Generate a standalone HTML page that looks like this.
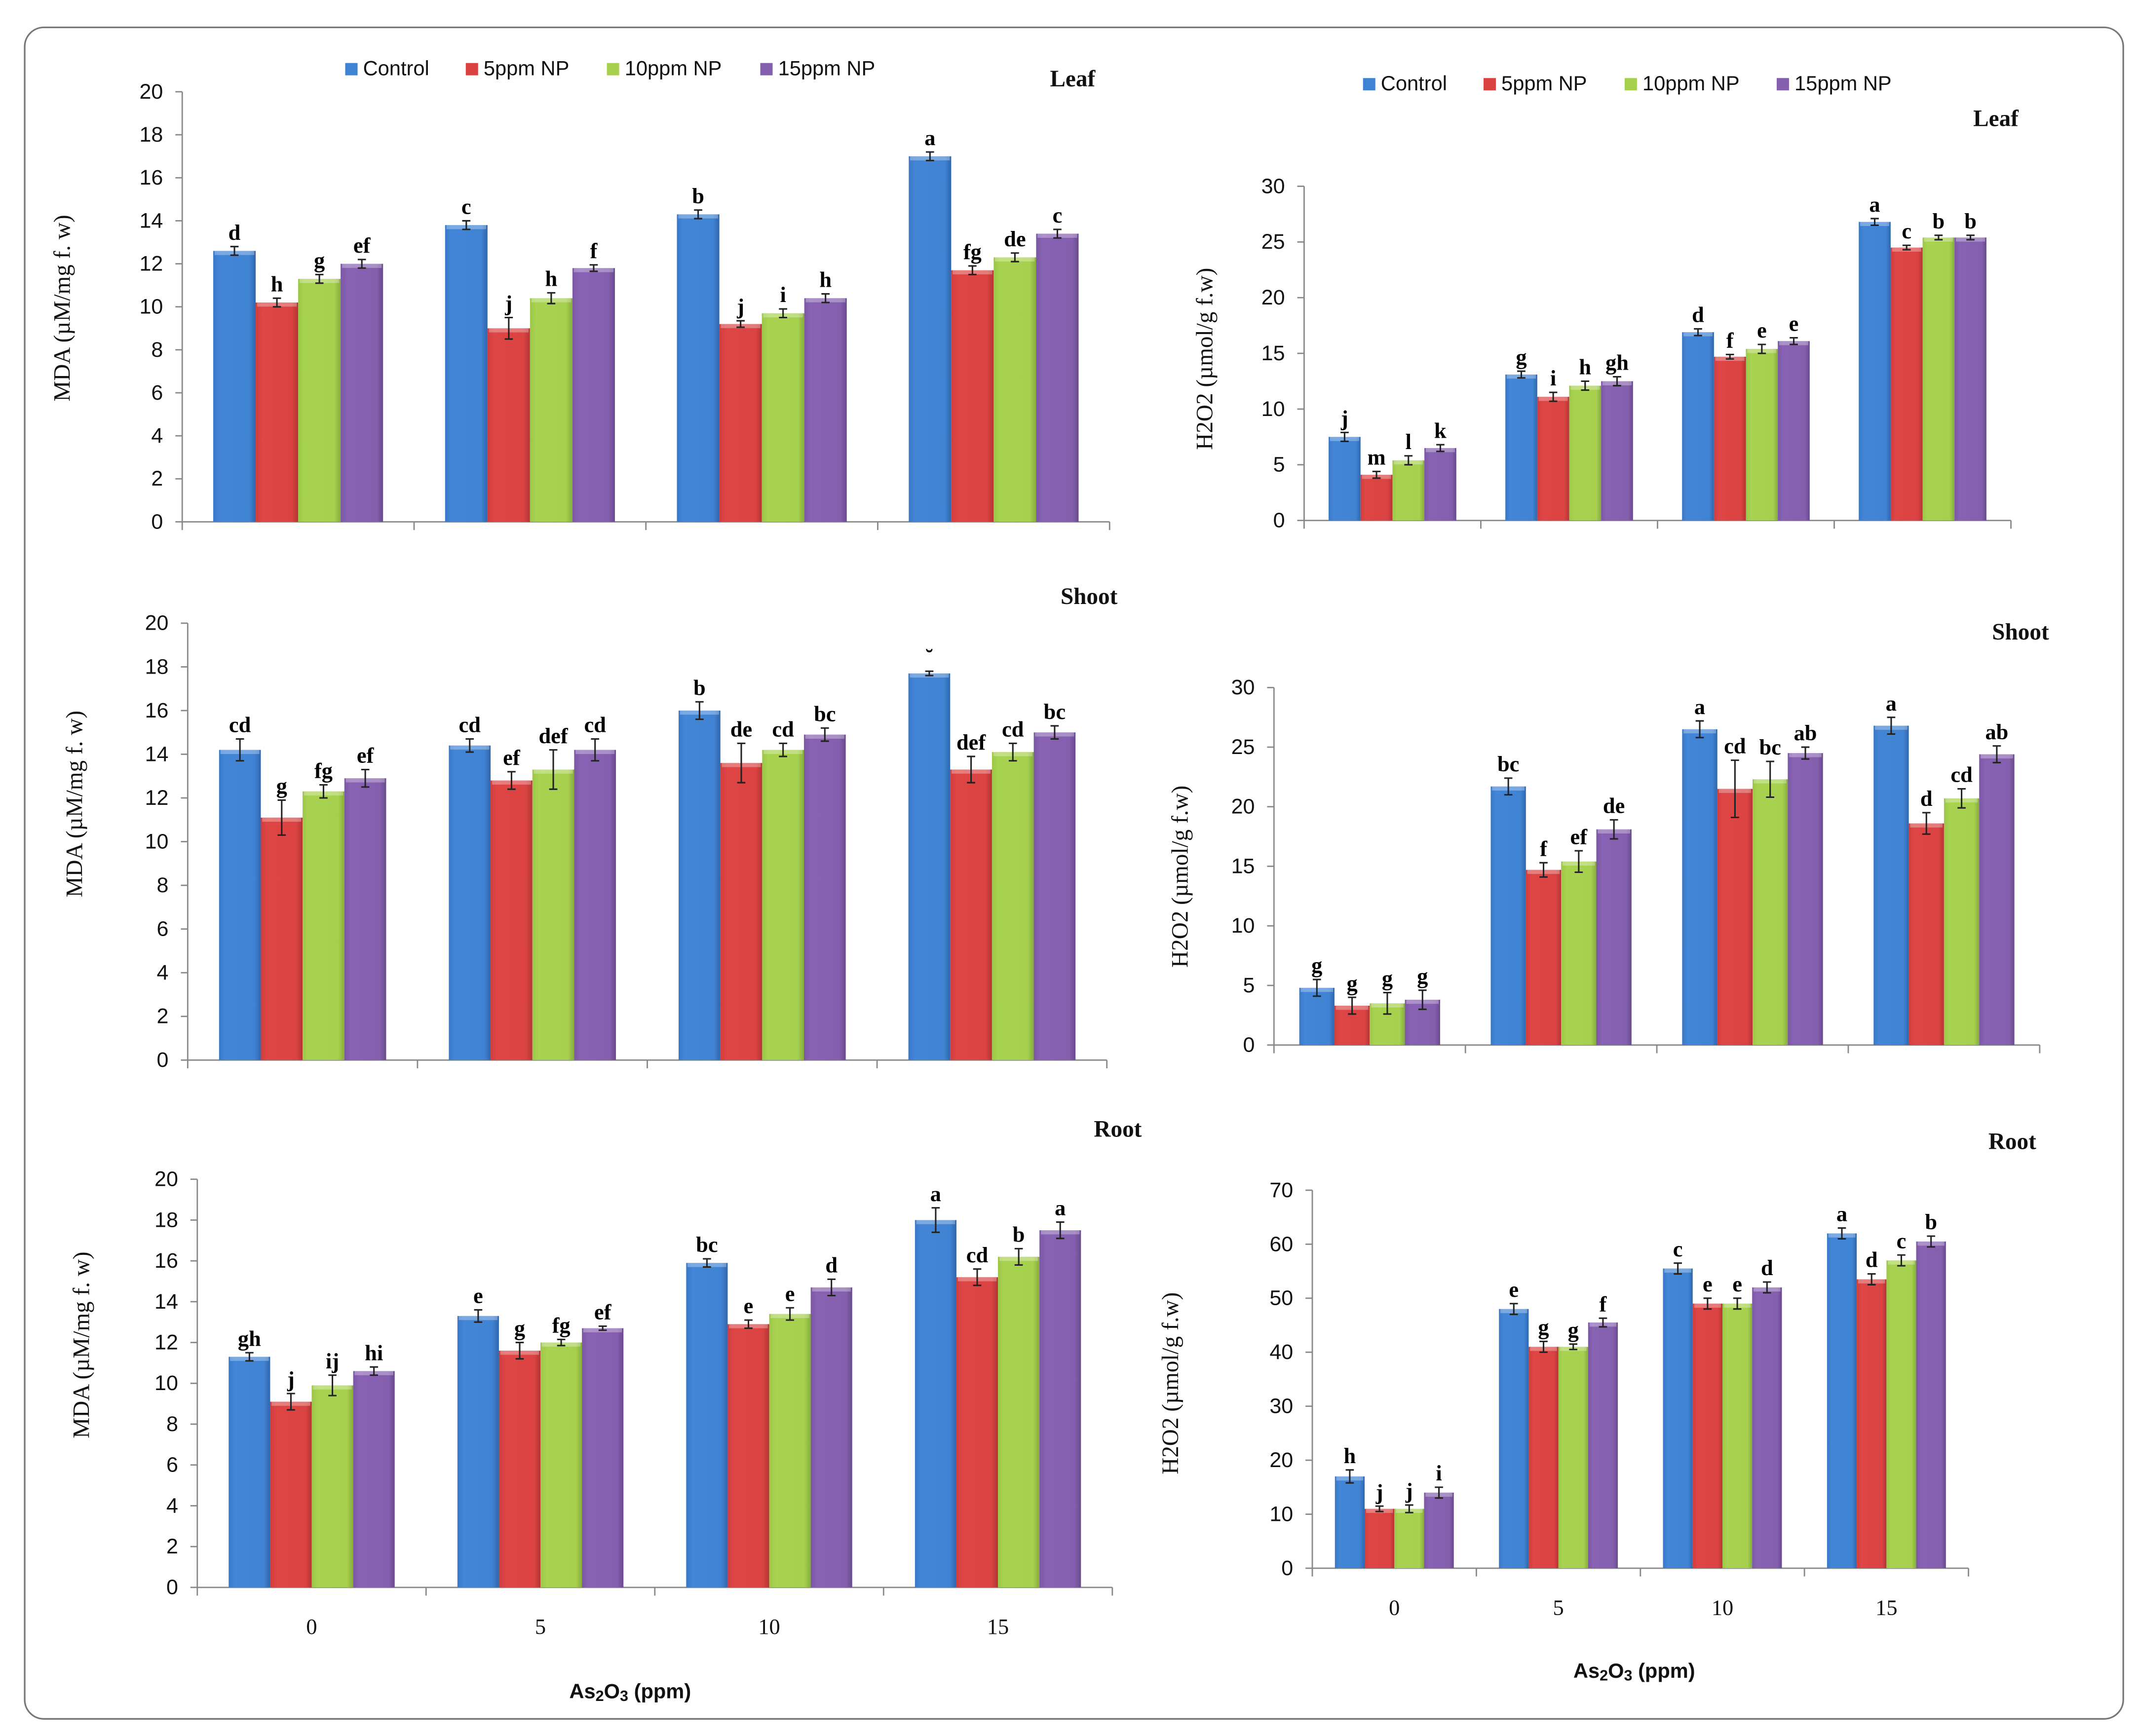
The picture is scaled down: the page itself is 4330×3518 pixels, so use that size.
<!DOCTYPE html>
<html><head><meta charset="utf-8"><style>html,body{margin:0;padding:0;background:#fff}svg{display:block}</style></head>
<body>
<svg id="fig" xmlns="http://www.w3.org/2000/svg" width="4330" height="3518" viewBox="0 0 1560 1267.5">
<defs>
<linearGradient id="g0" x1="0" x2="1"><stop offset="0" stop-color="#3a78c8"/><stop offset="0.15" stop-color="#4385d6"/><stop offset="0.85" stop-color="#4083d3"/><stop offset="1" stop-color="#2f66ad"/></linearGradient>
<linearGradient id="g1" x1="0" x2="1"><stop offset="0" stop-color="#cf3d3d"/><stop offset="0.15" stop-color="#de4545"/><stop offset="0.85" stop-color="#db4343"/><stop offset="1" stop-color="#b33434"/></linearGradient>
<linearGradient id="g2" x1="0" x2="1"><stop offset="0" stop-color="#9cc648"/><stop offset="0.15" stop-color="#a8d351"/><stop offset="0.85" stop-color="#a6d04e"/><stop offset="1" stop-color="#86ad3c"/></linearGradient>
<linearGradient id="g3" x1="0" x2="1"><stop offset="0" stop-color="#7a57a3"/><stop offset="0.15" stop-color="#8862b3"/><stop offset="0.85" stop-color="#845fae"/><stop offset="1" stop-color="#684a8c"/></linearGradient>
</defs>
<rect x="18" y="20" width="1532" height="1235" rx="14" fill="none" stroke="#777" stroke-width="1.2"/>
<g id="root"></g>
</svg>
<script>
const categories = ["0","5","10","15"];
const seriesNames = ["Control","5ppm NP","10ppm NP","15ppm NP"];
const leafMdaValues = [[12.6,10.2,11.3,12.0],[13.8,9.0,10.4,11.8],[14.3,9.2,9.7,10.4],[17.0,11.7,12.3,13.4]];
const leafMdaErrors = [[0.2,0.2,0.2,0.2],[0.2,0.5,0.25,0.15],[0.2,0.15,0.2,0.2],[0.2,0.2,0.2,0.2]];
const leafMdaLetters = [["d","h","g","ef"],["c","j","h","f"],["b","j","i","h"],["a","fg","de","c"]];
const leafMdaTicks = [0,2,4,6,8,10,12,14,16,18,20];
const leafH2o2Values = [[7.5,4.1,5.4,6.5],[13.1,11.1,12.1,12.5],[16.9,14.7,15.4,16.1],[26.8,24.5,25.4,25.4]];
const leafH2o2Errors = [[0.4,0.3,0.4,0.3],[0.3,0.4,0.4,0.4],[0.3,0.2,0.4,0.3],[0.3,0.2,0.2,0.2]];
const leafH2o2Letters = [["j","m","l","k"],["g","i","h","gh"],["d","f","e","e"],["a","c","b","b"]];
const leafH2o2Ticks = [0,5,10,15,20,25,30];
const shootMdaValues = [[14.2,11.1,12.3,12.9],[14.4,12.8,13.3,14.2],[16.0,13.6,14.2,14.9],[17.7,13.3,14.1,15.0]];
const shootMdaErrors = [[0.5,0.8,0.3,0.4],[0.3,0.4,0.9,0.5],[0.4,0.9,0.3,0.3],[0.1,0.6,0.4,0.3]];
const shootMdaLetters = [["cd","g","fg","ef"],["cd","ef","def","cd"],["b","de","cd","bc"],["˘","def","cd","bc"]];
const shootMdaTicks = [0,2,4,6,8,10,12,14,16,18,20];
const shootH2o2Values = [[4.8,3.3,3.5,3.8],[21.7,14.7,15.4,18.1],[26.5,21.5,22.3,24.5],[26.8,18.6,20.7,24.4]];
const shootH2o2Errors = [[0.7,0.7,0.9,0.8],[0.7,0.6,0.9,0.8],[0.7,2.4,1.5,0.5],[0.7,0.9,0.8,0.7]];
const shootH2o2Letters = [["g","g","g","g"],["bc","f","ef","de"],["a","cd","bc","ab"],["a","d","cd","ab"]];
const shootH2o2Ticks = [0,5,10,15,20,25,30];
const rootMdaValues = [[11.3,9.1,9.9,10.6],[13.3,11.6,12.0,12.7],[15.9,12.9,13.4,14.7],[18.0,15.2,16.2,17.5]];
const rootMdaErrors = [[0.2,0.4,0.5,0.2],[0.3,0.4,0.15,0.1],[0.2,0.2,0.3,0.4],[0.6,0.4,0.4,0.4]];
const rootMdaLetters = [["gh","j","ij","hi"],["e","g","fg","ef"],["bc","e","e","d"],["a","cd","b","a"]];
const rootMdaTicks = [0,2,4,6,8,10,12,14,16,18,20];
const rootH2o2Values = [[17,11,11,14],[48,41,41,45.5],[55.5,49,49,52],[62,53.5,57,60.5]];
const rootH2o2Errors = [[1.2,0.5,0.7,1.0],[1.0,1.0,0.5,0.8],[1.0,1.0,1.0,1.0],[1.0,1.0,1.0,1.0]];
const rootH2o2Letters = [["h","j","j","i"],["e","g","g","f"],["c","e","e","d"],["a","d","c","b"]];
const rootH2o2Ticks = [0,10,20,30,40,50,60,70];

const NS="http://www.w3.org/2000/svg";
const root=document.getElementById('root');
function mk(tag,attrs,parent,text){const e=document.createElementNS(NS,tag);for(const k in attrs)e.setAttribute(k,attrs[k]);if(text!==undefined)e.textContent=text;(parent||root).appendChild(e);return e;}

function panel(p){
  const g=mk('g',{});
  
  
  const ymax=p.ticks[p.ticks.length-1];
  const y=v=>p.y0-(v/ymax)*(p.y0-p.y1);
  const gw=(p.x1-p.x0)/categories.length;
  // y axis
  const ya=mk('line',{x1:p.x0,y1:p.y0,x2:p.x0,y2:p.y1,stroke:'#888','stroke-width':1},g);
  
  
  p.ticks.forEach(t=>{
    mk('line',{x1:p.x0-5,x2:p.x0,y1:y(t),y2:y(t),stroke:'#888','stroke-width':1},g);
    const tl=mk('text',{x:p.x0-14,y:y(t)+5,'text-anchor':'end','font-family':'Liberation Sans, sans-serif','font-size':15.5,fill:'#111'},g,String(t));
    
    
  });
  const xa=mk('line',{x1:p.x0,y1:p.y0,x2:p.x1,y2:p.y0,stroke:'#888','stroke-width':1},g);
  
  
  for(let i=0;i<=categories.length;i++){mk('line',{x1:p.x0+i*gw,x2:p.x0+i*gw,y1:p.y0,y2:p.y0+6,stroke:'#888','stroke-width':1},g);}
  p.values.forEach((row,i)=>{
    const cx=p.x0+gw*(i+0.5);
    row.forEach((v,j)=>{
      const bx=cx+(j-2)*p.bw;
      const top=y(v);
      const r=mk('rect',{x:bx,y:top,width:p.bw,height:p.y0-top,fill:'url(#g'+j+')'},g);
      
      
      mk('rect',{x:bx+1,y:top,width:p.bw-2,height:3,fill:'#fff',opacity:0.3},g);
      const e=p.errors[i][j];const ex=bx+p.bw/2;
      const eb=mk('path',{d:`M${ex},${y(v+e)}V${y(v-e)}M${ex-3},${y(v+e)}h6M${ex-3},${y(v-e)}h6`,stroke:'#222','stroke-width':1.1,fill:'none'},g);
      
      
      const lt=mk('text',{x:ex,y:y(v+e)-5,'text-anchor':'middle','font-family':'Liberation Serif, serif','font-weight':'bold','font-size':16,fill:'#000'},g,p.letters[i][j]);
      
      
    });
    if(p.xlabels){
      const xl=mk('text',{x:cx,y:p.y0+34,'text-anchor':'middle','font-family':'Liberation Serif, serif','font-size':16,fill:'#111'},g,categories[i]);
      
      
    }
  });
  const yt=mk('text',{x:0,y:0,transform:`translate(${p.tx},${p.ty}) rotate(-90)`,'text-anchor':'middle','font-family':'Liberation Serif, serif','font-size':17,fill:'#111'},g,p.ytitle);
  
  
  const ti=mk('text',{x:p.titleX,y:p.titleY,'text-anchor':'middle','font-family':'Liberation Serif, serif','font-weight':'bold','font-size':17,fill:'#111'},g,p.title);
  
  
  if(p.legend){
    const cols=['#4083d3','#db4343','#a6d04e','#845fae'];
    p.legend.xs.forEach((lx,j)=>{
      const le=mk('g',{},g);
      
      
      mk('rect',{x:lx,y:p.legend.y-9,width:9,height:9,fill:cols[j]},le);
      mk('text',{x:lx+13,y:p.legend.y,'font-family':'Liberation Sans, sans-serif','font-size':15,fill:'#111'},le,seriesNames[j]);
    });
  }
  if(p.xtitle){
    const xt=mk('text',{x:p.xtitle[0],y:p.xtitle[1],'text-anchor':'middle','font-family':'Liberation Sans, sans-serif','font-weight':'bold','font-size':15,fill:'#111'},g);
    
    
    xt.innerHTML='As<tspan font-size="11" dy="2">2</tspan><tspan dy="-2">O</tspan><tspan font-size="11" dy="2">3</tspan><tspan dy="-2"> (ppm)</tspan>';
  }
}
const mdaT='MDA (µM/mg f. w)', hT='H2O2 (µmol/g f.w)';
panel({name:'leaf-mda-chart',short:'leaf-mda',x0:133,x1:810,y0:381,y1:67,bw:31,values:leafMdaValues,errors:leafMdaErrors,letters:leafMdaLetters,ticks:leafMdaTicks,tx:51,ty:225,ytitle:mdaT,title:'Leaf',titleX:783,titleY:63,legend:{y:55,xs:[252,340,443,555]}});
panel({name:'leaf-h2o2-chart',short:'leaf-h2o2',x0:952,x1:1468,y0:380,y1:136,bw:23.3,values:leafH2o2Values,errors:leafH2o2Errors,letters:leafH2o2Letters,ticks:leafH2o2Ticks,tx:885,ty:262,ytitle:hT,title:'Leaf',titleX:1457,titleY:92,legend:{y:66,xs:[995,1083,1186,1297]}});
panel({name:'shoot-mda-chart',short:'shoot-mda',x0:137,x1:808,y0:774,y1:455,bw:30.5,values:shootMdaValues,errors:shootMdaErrors,letters:shootMdaLetters,ticks:shootMdaTicks,tx:60,ty:587,ytitle:mdaT,title:'Shoot',titleX:795,titleY:441});
panel({name:'shoot-h2o2-chart',short:'shoot-h2o2',x0:930,x1:1489,y0:763,y1:502,bw:25.7,values:shootH2o2Values,errors:shootH2o2Errors,letters:shootH2o2Letters,ticks:shootH2o2Ticks,tx:867,ty:640,ytitle:hT,title:'Shoot',titleX:1475,titleY:467});
panel({name:'root-mda-chart',short:'root-mda',x0:144,x1:812,y0:1159,y1:861,bw:30.3,values:rootMdaValues,errors:rootMdaErrors,letters:rootMdaLetters,ticks:rootMdaTicks,tx:65,ty:982,ytitle:mdaT,title:'Root',titleX:816,titleY:830,xlabels:true,xtitle:[460,1240]});
panel({name:'root-h2o2-chart',short:'root-h2o2',x0:958,x1:1437,y0:1145,y1:869,bw:21.7,values:rootH2o2Values,errors:rootH2o2Errors,letters:rootH2o2Letters,ticks:rootH2o2Ticks,tx:860,ty:1010,ytitle:hT,title:'Root',titleX:1469,titleY:839,xlabels:true,xtitle:[1193,1225]});
</script>
</body></html>
